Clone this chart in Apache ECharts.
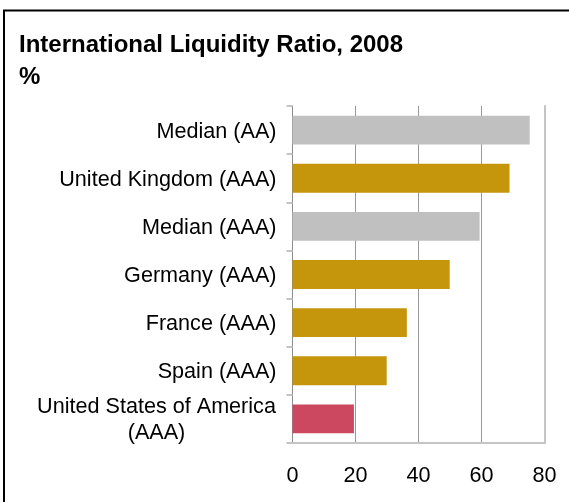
<!DOCTYPE html>
<html>
<head>
<meta charset="utf-8">
<style>
  html, body { margin: 0; padding: 0; background: #fff; }
  #chart { width: 569px; height: 502px; }
</style>
<script src="https://cdn.jsdelivr.net/npm/echarts@6/dist/echarts.min.js"></script>
</head>
<body>
<div id="chart"></div>
<script>
// International liquidity ratio by country / rating group, 2008 (%)
const categories = [
  'Median (AA)',
  'United Kingdom (AAA)',
  'Median (AAA)',
  'Germany (AAA)',
  'France (AAA)',
  'Spain (AAA)',
  'United States of America (AAA)'
];
const ratios = [75.3, 68.9, 59.4, 49.9, 36.3, 29.9, 19.5];
const xTicks = [0, 20, 40, 60, 80];

// bar fills: medians grey, AAA peers gold, USA highlighted
const barColors = ['#c0c0c0', '#c5950c', '#c0c0c0', '#c5950c', '#c5950c', '#c5950c', '#cc4860'];

const FONT = '"Liberation Sans", Arial, sans-serif';
const LABEL_SIZE = 21.6;

const chart = echarts.init(document.getElementById('chart'), null, { renderer: 'canvas' });

chart.setOption({
  animation: false,
  backgroundColor: '#fff',
  textStyle: { fontFamily: FONT },
  title: {
    text: 'International Liquidity Ratio, 2008\n%',
    left: 19,
    top: 29,
    padding: 0,
    textStyle: {
      fontFamily: FONT,
      fontSize: 24,
      fontWeight: 'bold',
      color: '#000',
      lineHeight: 32
    }
  },
  graphic: [{
    type: 'rect',
    shape: { x: 4, y: 10.5, width: 640, height: 640 },
    style: { fill: 'none', stroke: '#000', lineWidth: 2 },
    silent: true,
    z: 100
  }],
  grid: {
    left: 292.5,
    right: 24.5,
    top: 106,
    bottom: 59,
    containLabel: false
  },
  xAxis: {
    type: 'value',
    min: xTicks[0],
    max: xTicks[xTicks.length - 1],
    interval: xTicks[1] - xTicks[0],
    axisLine: { show: true, lineStyle: { color: '#c4c4c4', width: 2 } },
    axisTick: { show: false },
    splitLine: {
      show: true,
      lineStyle: { color: ['#999', '#999', '#999', '#999', '#c4c4c4'], width: 1 }
    },
    axisLabel: {
      color: '#000',
      fontSize: LABEL_SIZE,
      fontFamily: FONT,
      margin: 22
    }
  },
  yAxis: [{
    type: 'category',
    data: categories,
    inverse: true,
    axisLine: { show: true, lineStyle: { color: '#8c8c8c', width: 1 } },
    axisTick: { show: true, length: 6, lineStyle: { color: '#c4c4c4', width: 2 } },
    splitLine: { show: false },
    axisLabel: {
      color: '#000',
      fontSize: LABEL_SIZE,
      fontFamily: FONT,
      margin: 16,
      padding: [3, 0, 0, 0],
      formatter: function (v) {
        const m = v.match(/^(.*America) (\(AAA\))$/);
        if (m) return '{c|' + m[1] + '}\n{c|' + m[2] + '}';
        return v;
      },
      rich: {
        c: {
          width: 240,
          align: 'center',
          fontSize: LABEL_SIZE,
          fontFamily: FONT,
          color: '#000',
          lineHeight: 26
        }
      }
    }
  }, {
    type: 'category',
    data: categories,
    inverse: true,
    position: 'right',
    axisLine: { show: true, lineStyle: { color: '#c4c4c4', width: 2 } },
    axisTick: { show: false },
    axisLabel: { show: false },
    splitLine: { show: false }
  }],
  series: [{
    type: 'bar',
    yAxisIndex: 0,
    data: ratios.map((v, i) => ({ value: v, itemStyle: { color: barColors[i] } })),
    barCategoryGap: '40%',
    z: 3
  }]
});
</script>
</body>
</html>
